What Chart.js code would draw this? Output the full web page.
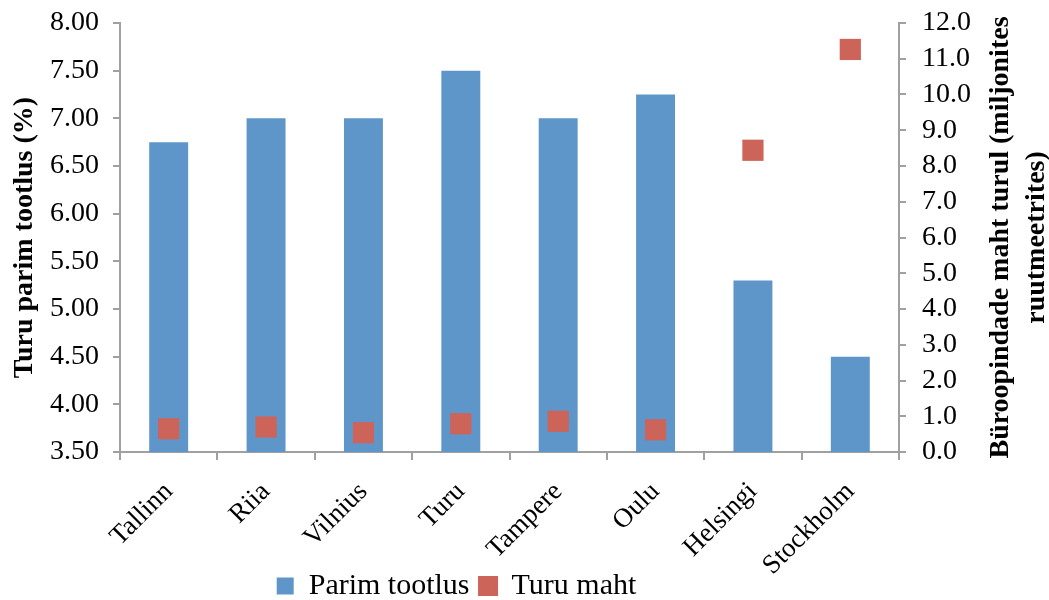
<!DOCTYPE html>
<html>
<head>
<meta charset="utf-8">
<script src="https://cdn.jsdelivr.net/npm/chart.js@4"></script>
<style>
  html, body { margin: 0; padding: 0; background: #fff; }
  #wrap { width: 1049px; height: 600px; }
</style>
</head>
<body>
<div id="wrap"><canvas id="chart" width="1049" height="600"></canvas></div>
<script>
// chart data
const cities = ['Tallinn', 'Riia', 'Vilnius', 'Turu', 'Tampere', 'Oulu', 'Helsingi', 'Stockholm'];
const bestYield = [6.75, 7.0, 7.0, 7.5, 7.0, 7.25, 5.3, 4.5];      // %
const marketSize = [0.65, 0.70, 0.54, 0.79, 0.86, 0.62, 8.44, 11.26]; // mln m2

const leftTitle = 'Turu parim tootlus (%)';
const rightTitle = ['Büroopindade maht turul (miljonites', 'ruutmeetrites)'];

const serif = '"Liberation Serif", "Times New Roman", serif';
const axisGrey = '#a0a0a0';

// right axis title reads bottom-to-top, legend sits lower and left of centre
const extras = {
    id: 'extras',
    afterLayout(chart) {
        const lg = chart.legend;
        lg.left -= 68; lg.right -= 68;
        lg.top += 11; lg.bottom += 11;
        // let the rotated city names run below the axis box
        chart.scales.x.bottom = chart.height;
    },
    afterDraw(chart) {
        const ctx = chart.ctx;
        const area = chart.chartArea;
        const cy = (area.top + area.bottom) / 2;
        ctx.save();
        ctx.font = 'bold 28px ' + serif;
        ctx.fillStyle = '#000';
        ctx.textAlign = 'center';
        ctx.textBaseline = 'middle';
        [1001, 1037].forEach((x, i) => {
            ctx.save();
            ctx.translate(x, cy);
            ctx.rotate(-Math.PI / 2);
            ctx.fillText(rightTitle[i], 0, 0);
            ctx.restore();
        });
        ctx.restore();
    }
};

const fixY = w => s => { s.width = w; s.paddingTop = 0; s.paddingBottom = 0; };

new Chart(document.getElementById('chart'), {
    data: {
        labels: cities,
        datasets: [
            {
                type: 'bar',
                label: 'Parim tootlus',
                data: bestYield,
                yAxisID: 'y',
                backgroundColor: '#5f96c9',
                borderColor: '#5f96c9',
                barPercentage: 0.4,
                categoryPercentage: 1.0,
                order: 2
            },
            {
                type: 'line',
                label: 'Turu maht',
                data: marketSize,
                yAxisID: 'y1',
                showLine: false,
                pointStyle: 'rect',
                pointRadius: 15,
                pointHoverRadius: 15,
                backgroundColor: '#cc6459',
                borderColor: '#cc6459',
                pointBorderWidth: 0,
                order: 1
            }
        ]
    },
    options: {
        responsive: false,
        animation: false,
        layout: { padding: { top: 23, left: 0, right: 0, bottom: 0 } },
        plugins: {
            tooltip: { enabled: false },
            legend: {
                position: 'bottom',
                labels: {
                    font: { family: serif, size: 30 },
                    color: '#000',
                    boxWidth: 17,
                    boxHeight: 17,
                    padding: 10,
                    sort: (a, b) => a.datasetIndex - b.datasetIndex
                }
            }
        },
        scales: {
            x: {
                afterFit: s => { s.height = 98; },
                grid: { drawOnChartArea: false, drawTicks: true, tickLength: 8, color: axisGrey, lineWidth: 2, offset: true },
                border: { display: true, color: axisGrey, width: 2 },
                ticks: {
                    font: { family: serif, size: 27 },
                    color: '#000',
                    minRotation: 45,
                    maxRotation: 45,
                    autoSkip: false,
                    padding: 16
                }
            },
            y: {
                position: 'left',
                min: 3.5,
                max: 8,
                afterFit: fixY(120),
                grid: { drawOnChartArea: false, drawTicks: true, tickLength: 7, color: axisGrey, lineWidth: 2 },
                border: { display: true, color: axisGrey, width: 2 },
                ticks: {
                    stepSize: 0.5,
                    autoSkip: false,
                    font: { family: serif, size: 28 },
                    color: '#000',
                    padding: 14,
                    callback: v => Number(v).toFixed(2)
                },
                title: {
                    display: true,
                    text: leftTitle,
                    font: { family: serif, size: 28, weight: 'bold' },
                    color: '#000',
                    padding: { top: 8, bottom: 0 }
                }
            },
            y1: {
                position: 'right',
                min: 0,
                max: 12,
                afterFit: fixY(150),
                grid: { drawOnChartArea: false, drawTicks: true, tickLength: 7, color: axisGrey, lineWidth: 2 },
                border: { display: true, color: axisGrey, width: 2 },
                ticks: {
                    stepSize: 1,
                    autoSkip: false,
                    font: { family: serif, size: 28 },
                    color: '#000',
                    padding: 16,
                    callback: v => Number(v).toFixed(1)
                }
            }
        }
    },
    plugins: [extras]
});
</script>
</body>
</html>
